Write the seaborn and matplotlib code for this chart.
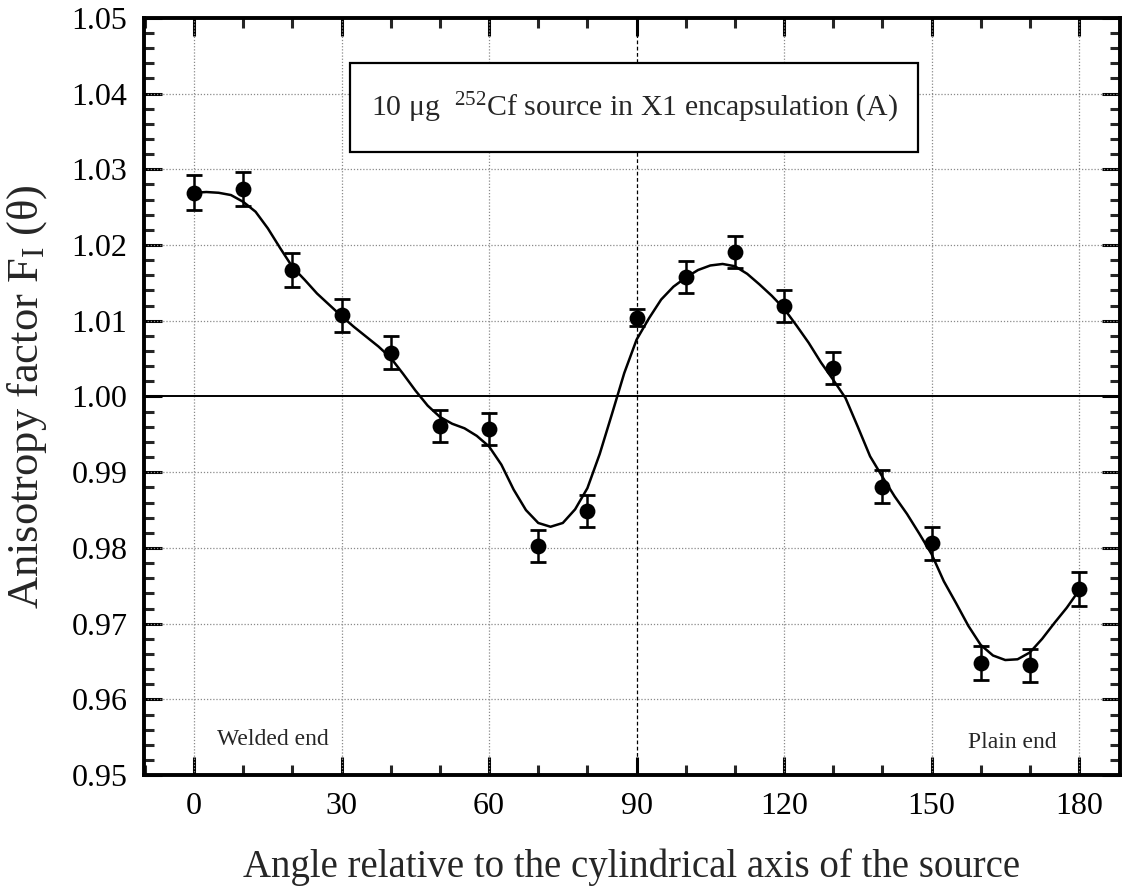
import numpy as np
import pandas as pd
import matplotlib
matplotlib.use("Agg")
import matplotlib.pyplot as plt
from matplotlib.patches import Rectangle
from matplotlib.ticker import MultipleLocator, FormatStrFormatter
import seaborn as sns

# ---------------- data ----------------
angles = [0, 10, 20, 30, 40, 50, 60, 70, 80, 90, 100, 110, 120, 130, 140, 150, 160, 170, 180]
anisotropy = [1.0269, 1.0274, 1.0167, 1.0107, 1.0058, 0.9961, 0.9957, 0.9803, 0.9849, 1.0104,
              1.0158, 1.0191, 1.0120, 1.0038, 0.9881, 0.9806, 0.9648, 0.9645, 0.9746]
errors = [0.0023, 0.0022, 0.0022, 0.0022, 0.0022, 0.0021, 0.0021, 0.0021, 0.0021, 0.0011,
          0.0021, 0.0021, 0.0021, 0.0021, 0.0022, 0.0022, 0.0022, 0.0022, 0.0022]

fit_angles = [0, 2.5, 5, 7.5, 10, 12.5, 15, 17.5, 20, 22.5, 25, 27.5, 30, 32.5, 35, 37.5, 40,
              42.5, 45, 47.5, 50, 52.5, 55, 57.5, 60, 62.5, 65, 67.5, 70, 72.5, 75, 77.5, 80,
              82.5, 85, 87.5, 90, 92.5, 95, 97.5, 100, 102.5, 105, 107.5, 110, 112.5, 115,
              117.5, 120, 122.5, 125, 127.5, 130, 132.5, 135, 137.5, 140, 142.5, 145, 147.5,
              150, 152.5, 155, 157.5, 160, 162.5, 165, 167.5, 170, 172.5, 175, 177.5, 180]
fit_values = [1.0269, 1.0270, 1.0269, 1.0266, 1.0257, 1.0244, 1.0222, 1.0196, 1.0171, 1.0154,
              1.0136, 1.0121, 1.0106, 1.0092, 1.0079, 1.0066, 1.0051, 1.0030, 1.0008, 0.9988,
              0.9973, 0.9964, 0.9958, 0.9948, 0.9934, 0.9910, 0.9877, 0.9850, 0.9833, 0.9828,
              0.9833, 0.9851, 0.9879, 0.9924, 0.9977, 1.0031, 1.0075, 1.0103, 1.0128, 1.0145,
              1.0157, 1.0167, 1.0173, 1.0175, 1.0172, 1.0162, 1.0148, 1.0133, 1.0116, 1.0094,
              1.0071, 1.0045, 1.0022, 0.9998, 0.9960, 0.9921, 0.9894, 0.9868, 0.9845, 0.9819,
              0.9792, 0.9756, 0.9727, 0.9697, 0.9672, 0.9658, 0.9652, 0.9653, 0.9662, 0.9680,
              0.9701, 0.9721, 0.9744]

xticks = [0, 30, 60, 90, 120, 150, 180]
yticks = [0.95, 0.96, 0.97, 0.98, 0.99, 1.00, 1.01, 1.02, 1.03, 1.04, 1.05]

box_text = r"10 μg  $^{252}$Cf source in X1 encapsulation (A)"
xlabel = "Angle relative to the cylindrical axis of the source"
ylabel = r"Anisotropy factor F$_{\mathrm{I}}$ (θ)"
left_note = "Welded end"
right_note = "Plain end"

pts = pd.DataFrame({"angle": angles, "F": anisotropy, "err": errors})
fit = pd.DataFrame({"angle": fit_angles, "F": fit_values})

# ---------------- style ----------------
sns.set_theme(style="ticks")
plt.rcParams["font.family"] = ["Liberation Serif", "DejaVu Serif"]
plt.rcParams["mathtext.fontset"] = "custom"
plt.rcParams["mathtext.rm"] = "Liberation Serif"
plt.rcParams["mathtext.it"] = "Liberation Serif:italic"
plt.rcParams["mathtext.bf"] = "Liberation Serif:bold"

fig = plt.figure(figsize=(11.3, 8.92), dpi=100)
ax = fig.add_axes([0.1274, 0.131, 0.8636, 0.849])

# grid
for xv in xticks:
    if xv == 90:
        ax.axvline(xv, color="black", lw=0.9, ls=(0, (3, 2)), zorder=1)
    else:
        ax.axvline(xv, color="#8a8a8a", lw=0.9, ls=(0, (1, 1.5)), zorder=1)
for yv in yticks[1:-1]:
    if abs(yv - 1.0) < 1e-9:
        ax.axhline(yv, color="black", lw=1.4, zorder=1)
    else:
        ax.axhline(yv, color="#8a8a8a", lw=0.9, ls=(0, (1, 1.5)), zorder=1)

# fitted curve
sns.lineplot(data=fit, x="angle", y="F", ax=ax, color="black", lw=1.8,
             sort=False, estimator=None, zorder=3)
# error bars
ax.errorbar(pts["angle"], pts["F"], yerr=pts["err"], fmt="none", ecolor="black",
            elinewidth=1.8, capsize=6, capthick=2.0, zorder=4)
# points
sns.scatterplot(data=pts, x="angle", y="F", ax=ax, color="black", s=130,
                edgecolor="black", linewidth=0, zorder=5)

# annotation box
ax.add_patch(Rectangle((31.8, 1.0323), 115.4, 0.0118, fill=True, facecolor="white",
                       edgecolor="black", lw=1.6, zorder=6))
ax.text(89.5, 1.0381, box_text, ha="center", va="center", fontsize=21.5, zorder=7)

ax.text(4.6, 0.9540, left_note, fontsize=17, ha="left", va="baseline")
ax.text(157.4, 0.9536, right_note, fontsize=17, ha="left", va="baseline")

# axes
ax.set_xlim(-10.2, 188.3)
ax.set_ylim(0.95, 1.05)
ax.xaxis.set_major_locator(MultipleLocator(30))
ax.xaxis.set_minor_locator(MultipleLocator(10))
ax.yaxis.set_major_locator(MultipleLocator(0.01))
ax.yaxis.set_minor_locator(MultipleLocator(0.002))
ax.yaxis.set_major_formatter(FormatStrFormatter("%.2f"))
ax.xaxis.set_major_formatter(FormatStrFormatter("%d"))

ax.tick_params(which="major", direction="in", length=13, width=2.2, top=True, right=True,
               labelsize=23, pad=12, colors="black")
ax.tick_params(which="minor", direction="in", length=7, width=2.2, top=True, right=True)
for sp in ax.spines.values():
    sp.set_linewidth(2.8)
    sp.set_color("black")

ax.set_xlabel(xlabel, fontsize=28, labelpad=20)
ax.set_ylabel(ylabel, fontsize=32, labelpad=16)

fig.savefig("out.png", dpi=100)
